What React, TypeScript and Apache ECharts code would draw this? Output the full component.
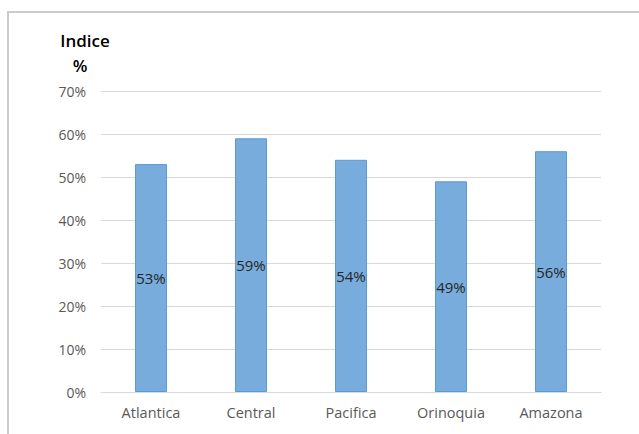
import React, { useEffect, useRef } from "react";
import * as echarts from "echarts";

const categories = ["Atlantica", "Central", "Pacifica", "Orinoquia", "Amazona"];
const values = [53, 59, 54, 49, 56];
const yTicks = [0, 10, 20, 30, 40, 50, 60, 70];
const titleLines = ["Indice", "%"];

export default function App() {
  const ref = useRef<HTMLDivElement>(null);
  useEffect(() => {
    if (!ref.current) return;
    const chart = echarts.init(ref.current, null, { renderer: "svg" });
    const font = "'Open Sans', 'Noto Sans', sans-serif";
    chart.setOption({
      animation: false,
      backgroundColor: "#ffffff",
      grid: { left: 101, right: 38, top: 91, bottom: 42 },
      xAxis: {
        type: "category",
        data: categories,
        axisLine: { show: true, lineStyle: { color: "#d9d9d9", width: 1 } },
        axisTick: { show: false },
        axisLabel: { color: "#595959", fontSize: 14.5, fontFamily: font, margin: 13 },
      },
      yAxis: {
        type: "value",
        min: yTicks[0],
        max: yTicks[yTicks.length - 1],
        interval: 10,
        axisLine: { show: false },
        axisTick: { show: false },
        splitLine: { lineStyle: { color: "#d9d9d9", width: 1 } },
        axisLabel: { color: "#595959", fontSize: 14, fontFamily: font, margin: 15, formatter: "{value}%" },
      },
      series: [
        {
          type: "bar",
          data: values,
          barWidth: 32,
          itemStyle: { color: "#78acdc", borderColor: "#5b9bd5", borderWidth: 1 },
          label: {
            show: true,
            position: "inside",
            color: "#262626",
            fontSize: 15,
            fontFamily: font,
            formatter: "{c}%",
          },
        },
      ],
      graphic: [
        { type: "line", shape: { x1: 7, y1: 12, x2: 639, y2: 12 }, style: { stroke: "#cccccc", lineWidth: 2 } },
        { type: "line", shape: { x1: 8, y1: 12, x2: 8, y2: 434 }, style: { stroke: "#cccccc", lineWidth: 2 } },
        {
          type: "text",
          x: 85,
          y: 40,
          style: { text: titleLines[0], fill: "#000000", font: `600 17px ${font}`, align: "center", verticalAlign: "middle" },
        },
        {
          type: "text",
          x: 80,
          y: 65,
          style: { text: titleLines[1], fill: "#000000", font: `600 17px ${font}`, align: "center", verticalAlign: "middle" },
        },
      ],
    });
    return () => chart.dispose();
  }, []);
  return <div ref={ref} style={{ position: "fixed", left: 0, top: 0, width: 639, height: 434 }} />;
}
